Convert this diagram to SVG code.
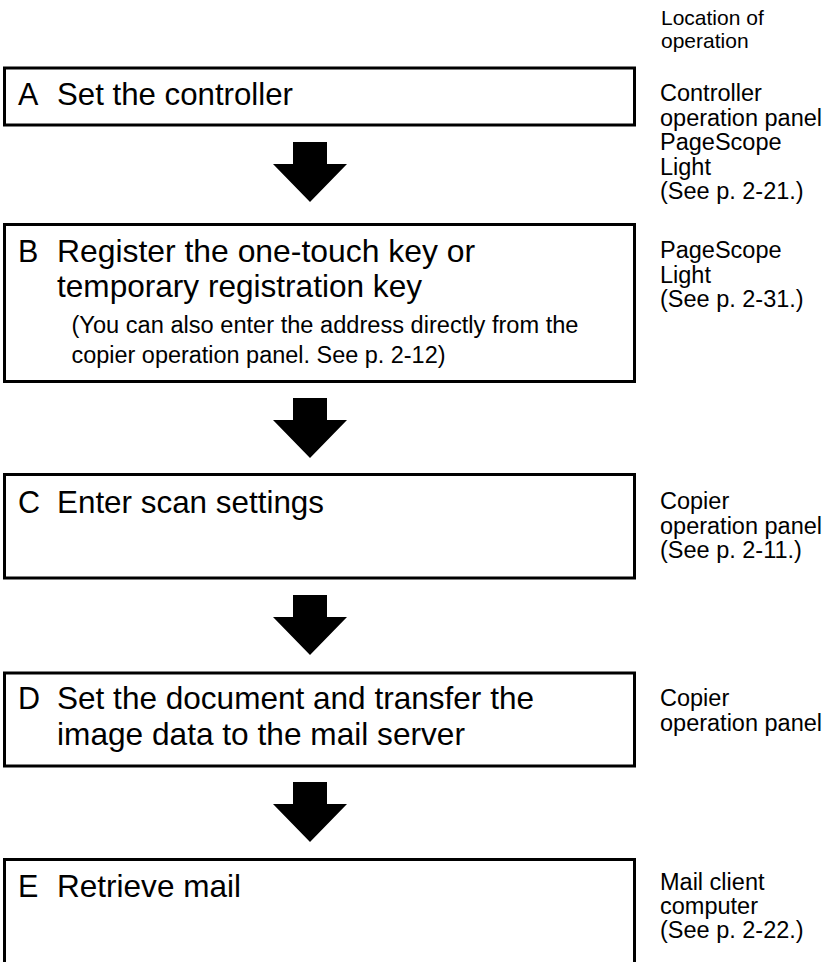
<svg xmlns="http://www.w3.org/2000/svg" width="827" height="962" viewBox="0 0 827 962">
<style>
.box{fill:#fff;stroke:#000;stroke-width:3}
.arrow{fill:#000;stroke:none}
.t{font-family:"Liberation Sans",Arial,sans-serif;font-size:30.5px;fill:#000}
.s{font-family:"Liberation Sans",Arial,sans-serif;font-size:23px;fill:#000}
.l{font-family:"Liberation Sans",Arial,sans-serif;font-size:23.5px;fill:#000}
.h{font-family:"Liberation Sans",Arial,sans-serif;font-size:21px;fill:#000}
</style>
<rect width="827" height="962" fill="#fff"/>
<g id="header">
<text class="h" x="661" y="25">Location of</text>
<text class="h" x="661" y="48">operation</text>
</g>
<g id="connectors">
<polygon class="arrow" points="293,142 327,142 327,164 347,164 310,202 273,164 293,164"/>
<polygon class="arrow" points="293,398 327,398 327,420 347,420 310,458 273,420 293,420"/>
<polygon class="arrow" points="293,595 327,595 327,617 347,617 310,655 273,617 293,617"/>
<polygon class="arrow" points="293,782 327,782 327,804 347,804 310,842 273,804 293,804"/>
</g>
<g id="nodeA">
<rect class="box" x="4.5" y="68" width="630" height="57"/>
<text class="t" x="18" y="105">A</text>
<text class="t" x="57" y="105" textLength="236" lengthAdjust="spacingAndGlyphs">Set the controller</text>
<text class="l" x="660" y="101">Controller</text>
<text class="l" x="660" y="125.5">operation panel</text>
<text class="l" x="660" y="150">PageScope</text>
<text class="l" x="660" y="174.5">Light</text>
<text class="l" x="660" y="199">(See p. 2-21.)</text>
</g>
<g id="nodeB">
<rect class="box" x="4.5" y="224.5" width="630" height="157"/>
<text class="t" x="18" y="261.7">B</text>
<text class="t" x="57" y="261.7" textLength="418" lengthAdjust="spacingAndGlyphs">Register the one-touch key or</text>
<text class="t" x="57" y="296.7" textLength="365" lengthAdjust="spacingAndGlyphs">temporary registration key</text>
<text class="s" x="71.5" y="333" textLength="507" lengthAdjust="spacingAndGlyphs">(You can also enter the address directly from the</text>
<text class="s" x="71.5" y="363" textLength="374" lengthAdjust="spacingAndGlyphs">copier operation panel. See p. 2-12)</text>
<text class="l" x="660" y="258">PageScope</text>
<text class="l" x="660" y="282.5">Light</text>
<text class="l" x="660" y="307">(See p. 2-31.)</text>
</g>
<g id="nodeC">
<rect class="box" x="4.5" y="474.5" width="630" height="103.5"/>
<text class="t" x="18" y="512.7">C</text>
<text class="t" x="57" y="512.7" textLength="267" lengthAdjust="spacingAndGlyphs">Enter scan settings</text>
<text class="l" x="660" y="509">Copier</text>
<text class="l" x="660" y="533.5">operation panel</text>
<text class="l" x="660" y="558">(See p. 2-11.)</text>
</g>
<g id="nodeD">
<rect class="box" x="4.5" y="673" width="630" height="93"/>
<text class="t" x="18" y="709.3">D</text>
<text class="t" x="57" y="709.3" textLength="477" lengthAdjust="spacingAndGlyphs">Set the document and transfer the</text>
<text class="t" x="57" y="745" textLength="408" lengthAdjust="spacingAndGlyphs">image data to the mail server</text>
<text class="l" x="660" y="706">Copier</text>
<text class="l" x="660" y="730.5">operation panel</text>
</g>
<g id="nodeE">
<path class="box" d="M4.5,975 V859.5 H634.5 V975"/>
<text class="t" x="18" y="896.5">E</text>
<text class="t" x="57" y="896.5" textLength="184" lengthAdjust="spacingAndGlyphs">Retrieve mail</text>
<text class="l" x="660" y="890">Mail client</text>
<text class="l" x="660" y="914">computer</text>
<text class="l" x="660" y="938">(See p. 2-22.)</text>
</g>
</svg>
